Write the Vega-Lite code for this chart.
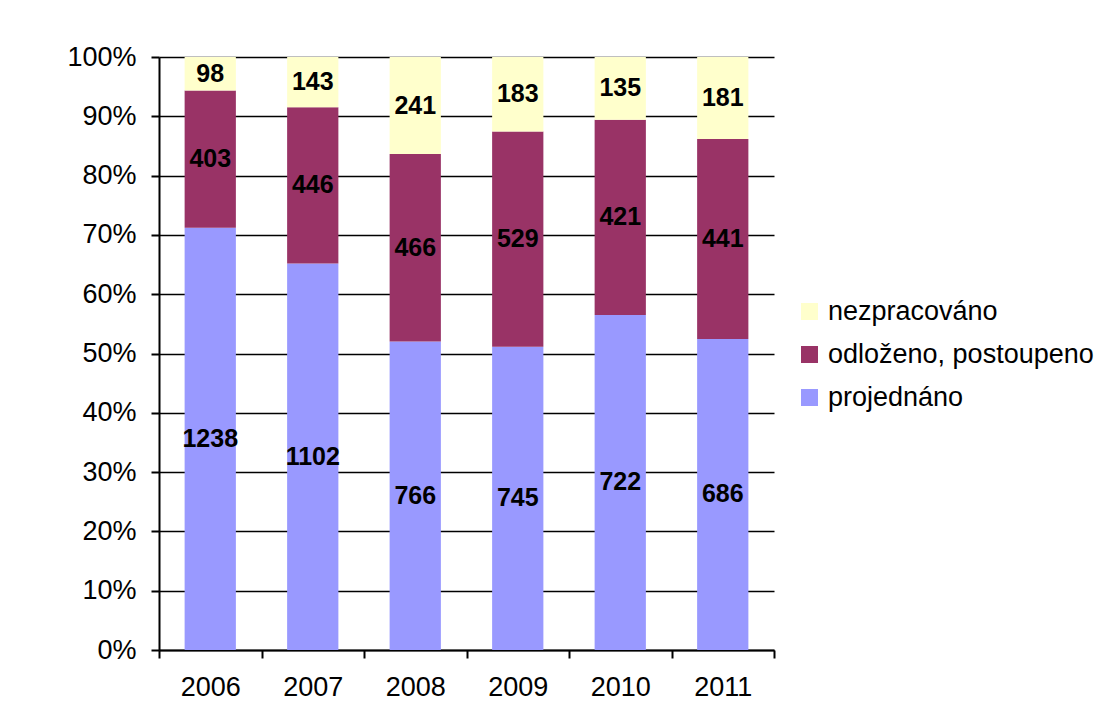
{
  "$schema": "https://vega.github.io/schema/vega-lite/v6.json",
  "autosize": {"type": "none"},
  "width": 615,
  "height": 593,
  "padding": {"left": 159, "top": 57, "right": 343, "bottom": 77},
  "background": "white",
  "config": {
    "font": "Liberation Sans",
    "view": {"stroke": null},
    "axis": {"labelFont": "Liberation Sans", "labelFontSize": 27, "labelColor": "black", "domainColor": "black", "domainWidth": 2, "tickColor": "black", "tickWidth": 2, "tickSize": 8, "title": null}
  },
  "data": {
    "values": [
      {"year": "2006", "cat": "projednáno", "ord": 1, "n": 1238},
      {"year": "2006", "cat": "odloženo, postoupeno", "ord": 2, "n": 403},
      {"year": "2006", "cat": "nezpracováno", "ord": 3, "n": 98},
      {"year": "2007", "cat": "projednáno", "ord": 1, "n": 1102},
      {"year": "2007", "cat": "odloženo, postoupeno", "ord": 2, "n": 446},
      {"year": "2007", "cat": "nezpracováno", "ord": 3, "n": 143},
      {"year": "2008", "cat": "projednáno", "ord": 1, "n": 766},
      {"year": "2008", "cat": "odloženo, postoupeno", "ord": 2, "n": 466},
      {"year": "2008", "cat": "nezpracováno", "ord": 3, "n": 241},
      {"year": "2009", "cat": "projednáno", "ord": 1, "n": 745},
      {"year": "2009", "cat": "odloženo, postoupeno", "ord": 2, "n": 529},
      {"year": "2009", "cat": "nezpracováno", "ord": 3, "n": 183},
      {"year": "2010", "cat": "projednáno", "ord": 1, "n": 722},
      {"year": "2010", "cat": "odloženo, postoupeno", "ord": 2, "n": 421},
      {"year": "2010", "cat": "nezpracováno", "ord": 3, "n": 135},
      {"year": "2011", "cat": "projednáno", "ord": 1, "n": 686},
      {"year": "2011", "cat": "odloženo, postoupeno", "ord": 2, "n": 441},
      {"year": "2011", "cat": "nezpracováno", "ord": 3, "n": 181}
    ]
  },
  "transform": [
    {"stack": "n", "groupby": ["year"], "sort": [{"field": "ord", "order": "ascending"}], "offset": "normalize", "as": ["y0", "y1"]},
    {"calculate": "(datum.y0 + datum.y1) / 2", "as": "mid"}
  ],
  "encoding": {
    "x": {
      "field": "year", "type": "nominal",
      "scale": {"paddingInner": 0, "paddingOuter": 0},
      "axis": {"labelAngle": 0, "labelPadding": 16, "tickBand": "extent", "grid": false}
    }
  },
  "layer": [
    {
      "mark": {"type": "bar", "width": {"band": 0.5}},
      "encoding": {
        "y": {"field": "y0", "type": "quantitative", "scale": {"domain": [0, 1]},
          "axis": {"format": ".0%", "values": [0, 0.1, 0.2, 0.3, 0.4, 0.5, 0.6, 0.7, 0.8, 0.9, 1], "grid": true, "gridColor": "black", "gridWidth": 1.5, "labelPadding": 15}},
        "y2": {"field": "y1"},
        "color": {
          "field": "cat", "type": "nominal",
          "scale": {"domain": ["nezpracováno", "odloženo, postoupeno", "projednáno"], "range": ["#FFFFCC", "#993366", "#9999FF"]},
          "legend": {"title": null, "orient": "none", "legendX": 637, "legendY": 241, "symbolType": "square", "symbolSize": 289, "symbolStrokeWidth": 0, "symbolOpacity": 1, "labelFontSize": 27, "labelFont": "Liberation Sans", "labelColor": "black", "labelLimit": 400, "rowPadding": 15, "labelOffset": 5}
        }
      }
    },
    {
      "mark": {"type": "text", "font": "Liberation Sans", "fontSize": 25, "fontWeight": "bold", "color": "black", "baseline": "middle"},
      "encoding": {
        "y": {"field": "mid", "type": "quantitative"},
        "text": {"field": "n", "type": "quantitative"}
      }
    }
  ]
}
